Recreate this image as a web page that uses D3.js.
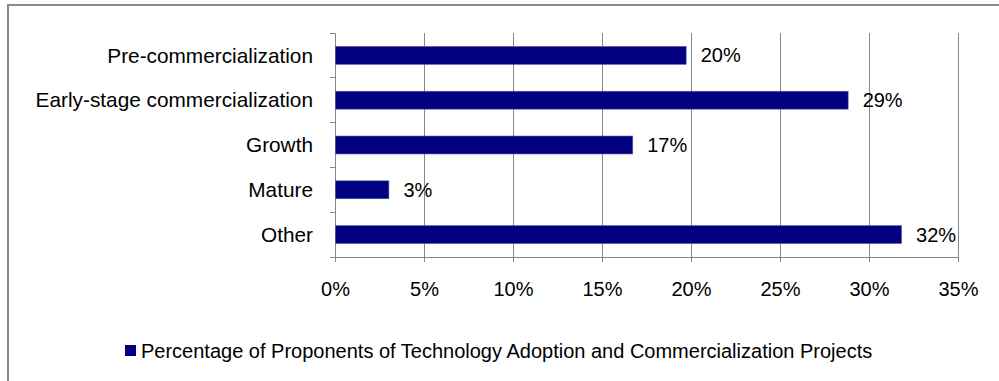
<!DOCTYPE html>
<html>
<head>
<meta charset="utf-8">
<script src="https://cdn.jsdelivr.net/npm/d3@7/dist/d3.min.js"></script>
<style>
  html, body { margin: 0; padding: 0; background: #fff; }
  svg { display: block; }
  text { font-family: "Liberation Sans", Arial, sans-serif; fill: #000; }
</style>
</head>
<body>
<svg id="chart" width="999" height="381"></svg>
<script>
// Project stage shares
const categories = ["Pre-commercialization", "Early-stage commercialization", "Growth", "Mature", "Other"];
const values = [19.7, 28.8, 16.7, 3.0, 31.8];
const xTicks = [0, 5, 10, 15, 20, 25, 30, 35];
const seriesName = "Percentage of Proponents of Technology Adoption and Commercialization Projects";

const W = 999, H = 381;
const plot = { left: 335, right: 958, top: 33, bottom: 257 };
const gridColor = "#878787";
const barColor = "#000080";
const fontSize = 20;
const catFontSize = 20.8;

const svg = d3.select("#chart");

// outer chart frame
svg.append("rect")
  .attr("x", 8).attr("y", 5)
  .attr("width", W + 20).attr("height", H + 20)
  .attr("fill", "#fff")
  .attr("stroke", "#8a8a8a").attr("stroke-width", 2);

const x = d3.scaleLinear().domain([0, 35]).range([plot.left, plot.right]);
const y = d3.scaleBand().domain(categories).range([plot.top, plot.bottom]).paddingInner(0.6).paddingOuter(0.3);

// vertical gridlines
svg.append("g")
  .selectAll("line")
  .data(xTicks.slice(1))
  .join("line")
  .attr("x1", d => x(d)).attr("x2", d => x(d))
  .attr("y1", plot.top).attr("y2", plot.bottom)
  .attr("stroke", gridColor).attr("stroke-width", 1)
  .attr("shape-rendering", "crispEdges");

// x axis
const xAxis = svg.append("g")
  .attr("transform", `translate(0,${plot.bottom})`)
  .call(d3.axisBottom(x).tickValues(xTicks).tickFormat(d => d + "%").tickSize(5).tickPadding(20));
xAxis.select(".domain").attr("stroke", gridColor).attr("shape-rendering", "crispEdges");
xAxis.selectAll(".tick line").attr("stroke", gridColor).attr("shape-rendering", "crispEdges");
xAxis.selectAll(".tick text")
  .style("font-size", fontSize + "px")
  .style("font-family", '"Liberation Sans", Arial, sans-serif')
  .attr("fill", "#000");

// y axis: category labels with ticks between bands
const yAxis = svg.append("g").attr("transform", `translate(${plot.left},0)`);
yAxis.append("line")
  .attr("x1", 0).attr("x2", 0)
  .attr("y1", plot.top).attr("y2", plot.bottom + 5)
  .attr("stroke", gridColor).attr("shape-rendering", "crispEdges");
const step = (plot.bottom - plot.top) / categories.length;
yAxis.selectAll("line.tk")
  .data(d3.range(categories.length + 1))
  .join("line").attr("class", "tk")
  .attr("x1", -5).attr("x2", 0)
  .attr("y1", i => plot.top + i * step).attr("y2", i => plot.top + i * step)
  .attr("stroke", gridColor).attr("shape-rendering", "crispEdges");
yAxis.selectAll("text")
  .data(categories)
  .join("text")
  .attr("x", -22)
  .attr("y", d => y(d) + y.bandwidth() / 2)
  .attr("dy", "0.35em")
  .attr("text-anchor", "end")
  .style("font-size", catFontSize + "px")
  .text(d => d);

// bars
svg.append("g")
  .selectAll("rect")
  .data(values)
  .join("rect")
  .attr("x", x(0) + 0.5)
  .attr("y", (d, i) => y(categories[i]))
  .attr("width", d => x(d) - x(0))
  .attr("height", y.bandwidth())
  .attr("fill", barColor)
  .attr("stroke", "#5a5aa8").attr("stroke-width", 0.6);

// value labels
svg.append("g")
  .selectAll("text")
  .data(values)
  .join("text")
  .attr("x", d => x(d) + 15)
  .attr("y", (d, i) => y(categories[i]) + y.bandwidth() / 2)
  .attr("dy", "0.35em")
  .style("font-size", fontSize + "px")
  .text(d => Math.round(d) + "%");

// legend
const lg = svg.append("g").attr("transform", "translate(125,345)");
lg.append("rect").attr("width", 11).attr("height", 11).attr("fill", barColor);
lg.append("text")
  .attr("x", 16).attr("y", 5.5).attr("dy", "0.35em")
  .style("font-size", fontSize + "px")
  .text(seriesName);
</script>
</body>
</html>
